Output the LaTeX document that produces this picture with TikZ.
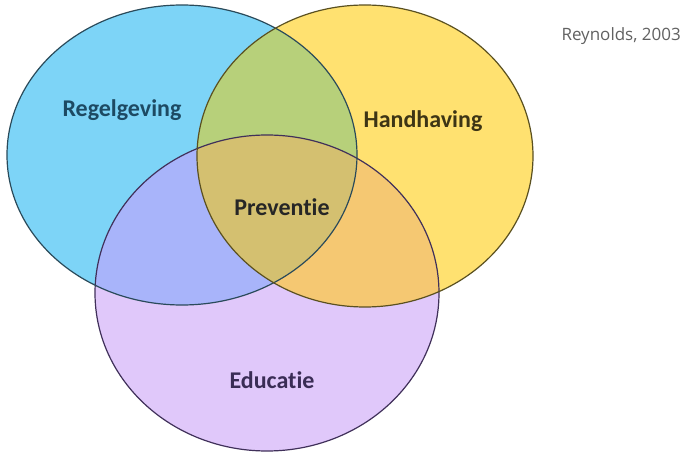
\documentclass[tikz,border=0pt]{standalone}
\usepackage{fontspec}
\setmainfont{Carlito}[Ligatures={NoCommon}, RawFeature={-liga;-clig;-dlig}]
\newfontfamily\reffont{Open Sans}
\definecolor{cblue}{HTML}{7DD4F7}
\definecolor{cyellow}{HTML}{FFE170}
\definecolor{cpurple}{HTML}{E0C8FA}
\definecolor{cgreen}{HTML}{B7D07A}
\definecolor{cbp}{HTML}{A8B4FA}
\definecolor{cyp}{HTML}{F5C872}
\definecolor{ccenter}{HTML}{D4C070}
\definecolor{lblue}{HTML}{2A4A5A}
\definecolor{lyellow}{HTML}{5A5020}
\definecolor{lpurple}{HTML}{40305A}
\definecolor{tblue}{HTML}{1D4A63}
\definecolor{tyellow}{HTML}{3D3515}
\definecolor{tpurple}{HTML}{3A2D55}
\begin{document}
\begin{tikzpicture}[x=1pt,y=-1pt,
  lbl/.style={font=\fontsize{24}{28}\selectfont\bfseries, inner sep=0pt},
  outl/.style={line width=1.2pt}]
\useasboundingbox (0,0) rectangle (681,454);
\def\EB{(182,155) ellipse [x radius=175, y radius=150]}
\def\EY{(365,156) ellipse [x radius=168, y radius=151]}
\def\EP{(267,293) ellipse [x radius=172, y radius=158]}
% single fills
\fill[cblue] \EB;
\fill[cyellow] \EY;
\fill[cpurple] \EP;
% pairwise
\begin{scope}\clip \EB; \fill[cgreen] \EY; \end{scope}
\begin{scope}\clip \EB; \fill[cbp] \EP; \end{scope}
\begin{scope}\clip \EY; \fill[cyp] \EP; \end{scope}
\begin{scope}\clip \EB; \clip \EY; \fill[ccenter] \EP; \end{scope}
% outlines
\draw[outl, lpurple] \EP;
\draw[outl, lblue] \EB;
\draw[outl, lyellow] \EY;
% labels
\node[lbl, text=tblue] (reg) at (122,110) {Regelgeving};
\node[lbl, text=tyellow] (hand) at (423,121) {Handhaving};
\node[lbl, text=black!85] (prev) at (282,207) {Preventie};
\node[lbl, text=tpurple] (edu) at (272,380) {Educatie};
\node[font=\reffont\fontsize{17}{20}\selectfont, text=black!62, anchor=east, inner sep=0pt] (src) at (681,36) {Reynolds, 2003};
\end{tikzpicture}
\end{document}
